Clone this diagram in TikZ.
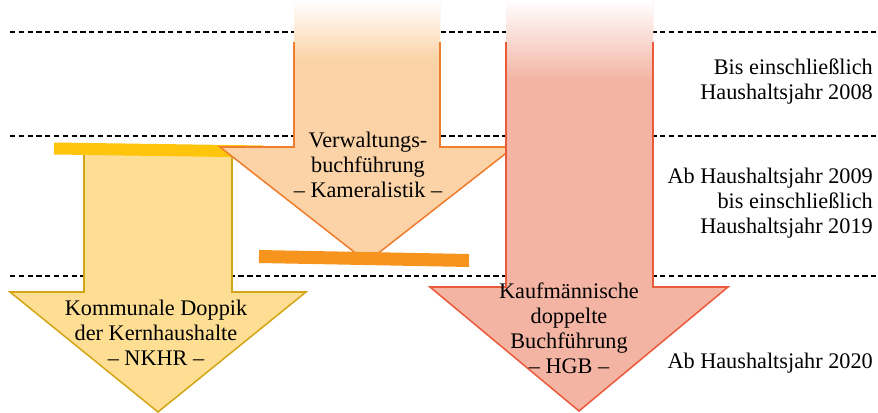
\documentclass[tikz,border=0pt]{standalone}
\usepackage{fontspec}
\setmainfont{Liberation Serif}
\definecolor{yelfill}{HTML}{FEDE92}
\definecolor{yelline}{HTML}{D4A617}
\definecolor{yelbar}{HTML}{FFC40C}
\definecolor{orfill}{HTML}{FBD3A6}
\definecolor{orline}{HTML}{F07D2E}
\definecolor{orbar}{HTML}{F7941E}
\definecolor{redfill}{HTML}{F4B4A4}
\definecolor{redline}{HTML}{EA5B3C}
\begin{document}
\begin{tikzpicture}[x=0.3mm,y=-0.3mm,
    txt/.style={align=center,inner sep=0pt,font=\fontsize{19}{21.3}\selectfont},
    period/.style={txt,align=right,anchor=east},
    grenze/.style={dash pattern=on 4.5pt off 3pt,line width=0.9pt},
    rand/.style={line width=1.3pt,line join=miter}]
  \useasboundingbox (0,0) rectangle (878,412);
  \foreach \y in {32,136,276}
    \draw [grenze] (10,\y) -- (878,\y);
  % Kommunale Doppik
  \fill [yelfill] (84,155) -- (84,292) -- (10,292) -- (158,412) -- (306,292)
    -- (232,292) -- (232,155) -- cycle;
  \draw [rand,yelline] (84,155) -- (84,292) -- (10,292) -- (158,412)
    -- (306,292) -- (232,292) -- (232,155);
  \draw [yelbar,line width=3.6mm] (54,148.5) -- (263,151.5);
  % Kameralistik
  \fill [orfill] (294,0) -- (294,147) -- (220,147) -- (367,262) -- (514,147)
    -- (440,147) -- (440,0) -- cycle;
  \shade [top color=white,bottom color=orfill] (294,0) rectangle (440,60);
  \draw [rand,orline] (294,42) -- (294,147) -- (220,147) -- (367,262)
    -- (514,147) -- (440,147) -- (440,42);
  \draw [orbar,line width=3.9mm] (259,256.5) -- (469,260.5);
  % HGB
  \fill [redfill] (506,0) -- (506,287) -- (430,287) -- (579,411) -- (728,287)
    -- (653,287) -- (653,0) -- cycle;
  \shade [top color=white,bottom color=redfill] (506,0) rectangle (653,80);
  \draw [rand,redline] (506,42) -- (506,287) -- (430,287) -- (579,411)
    -- (728,287) -- (653,287) -- (653,42);
  % Beschriftung
  \node [txt] (nkhr) at (156,333) {Kommunale Doppik\\der Kernhaushalte\\– NKHR –};
  \node [txt] (kamera) at (368,165) {Verwaltungs-\\buchführung\\– Kameralistik –};
  \node [txt] (hgb) at (569,328) {Kaufmännische\\doppelte\\Buchführung\\– HGB –};
  \node [period] (bis08) at (873,82) {Bis einschließlich\\Haushaltsjahr 2008};
  \node [period] (ab09) at (873,203) {Ab Haushaltsjahr 2009\\bis einschließlich\\Haushaltsjahr 2019};
  \node [period] (ab20) at (873,363) {Ab Haushaltsjahr 2020};
\end{tikzpicture}
\end{document}
